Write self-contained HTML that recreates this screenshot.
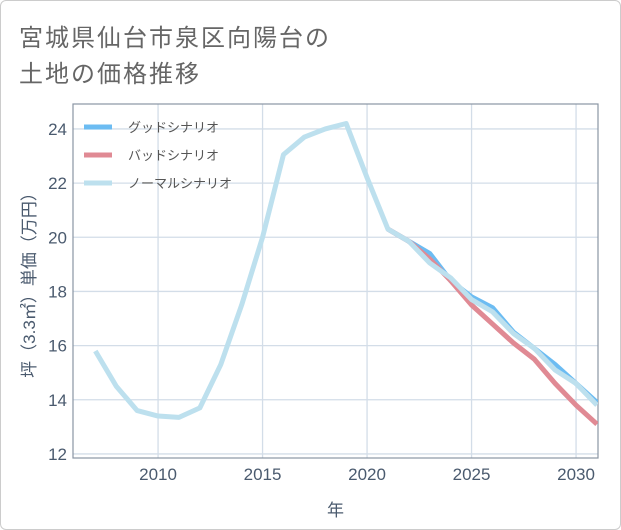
<!DOCTYPE html>
<html><head><meta charset="utf-8"><style>
body{margin:0;background:#fff;}
#card{position:absolute;left:0;top:0;width:619px;height:528px;border:1px solid #ccc;border-radius:6px;background:#fff;overflow:hidden;}
.title{position:absolute;left:18px;font:24px "Liberation Sans","Noto Sans CJK JP",sans-serif;color:#666;letter-spacing:2px;white-space:nowrap;}
svg text{font-family:"Liberation Sans","Noto Sans CJK JP",sans-serif;}
</style></head><body>
<div id="card">
<div class="title" style="top:17px">宮城県仙台市泉区向陽台の</div>
<div class="title" style="top:53px">土地の価格推移</div>
<svg id="chart" width="621" height="530" style="position:absolute;left:0;top:0"></svg>
</div>
<script>
const normalYears=[2007,2008,2009,2010,2011,2012,2013,2014,2015,2016,2017,2018,2019,2020,2021,2022,2023,2024,2025,2026,2027,2028,2029,2030,2031];
const normalValues=[15.8,14.5,13.6,13.4,13.35,13.7,15.3,17.5,20.0,23.05,23.7,24.0,24.2,22.2,20.3,19.85,19.05,18.5,17.7,17.25,16.45,15.9,15.1,14.6,13.8];
const goodYears=[2021,2022,2023,2024,2025,2026,2027,2028,2029,2030,2031];
const goodValues=[20.3,19.85,19.4,18.4,17.8,17.4,16.5,15.9,15.3,14.6,13.9];
const badYears=[2021,2022,2023,2024,2025,2026,2027,2028,2029,2030,2031];
const badValues=[20.3,19.85,19.2,18.4,17.5,16.8,16.1,15.5,14.6,13.8,13.1];
const xTicks=[2010,2015,2020,2025,2030];
const yTicks=[12,14,16,18,20,22,24];
const seriesNames=["グッドシナリオ","バッドシナリオ","ノーマルシナリオ"];
const seriesColors=["#6cbcf2","#e08a94","#bde0ee"];

const L=72,R=597,T=103,B=457,x0=2005.93,x1=2031.05,y0=11.85,y1=24.92;
const sx=v=>L+(v-x0)/(x1-x0)*(R-L);
const sy=v=>B-(v-y0)/(y1-y0)*(B-T);
const svg=document.getElementById('chart');
const NS='http://www.w3.org/2000/svg';
function mk(tag,attrs,parent){const e=document.createElementNS(NS,tag);for(const k in attrs)e.setAttribute(k,attrs[k]);(parent||svg).appendChild(e);return e;}
const clip=mk('clipPath',{id:'pc'});mk('rect',{x:L,y:T,width:R-L,height:B-T},clip);
xTicks.forEach(t=>{
  const g=mk('line',{x1:sx(t),x2:sx(t),y1:T,y2:B,stroke:'#d3dde8','stroke-width':1.3});
  
  
  const tx=mk('text',{x:sx(t),y:B+22,'text-anchor':'middle','font-size':17,fill:'#4a5a6e'});tx.textContent=t;
  
  
});
yTicks.forEach(t=>{
  const g=mk('line',{x1:L,x2:R,y1:sy(t),y2:sy(t),stroke:'#d3dde8','stroke-width':1.3});
  
  
  const tx=mk('text',{x:L-6,y:sy(t)+6,'text-anchor':'end','font-size':17,fill:'#4a5a6e'});tx.textContent=t;
  
  
});
const frame=mk('rect',{x:L,y:T,width:R-L,height:B-T,fill:'none',stroke:'#8a95a3','stroke-width':1.2});


function line(xs,ys,color,name){
  const p=mk('polyline',{points:xs.map((x,i)=>sx(x)+','+sy(ys[i])).join(' '),fill:'none',stroke:color,'stroke-width':5,'stroke-linejoin':'round','clip-path':'url(#pc)'});
  
  
}
line(goodYears,goodValues,seriesColors[0],'good-scenario-line');
line(badYears,badValues,seriesColors[1],'bad-scenario-line');
line(normalYears,normalValues,seriesColors[2],'normal-scenario-line');
seriesNames.forEach((n,i)=>{
  const y=126+i*28;
  const sw=mk('line',{x1:83,x2:111,y1:y,y2:y,stroke:seriesColors[i],'stroke-width':5});
  
  
  const t=mk('text',{x:127,y:y+5,'font-size':13,fill:'#555'});t.textContent=n;
  
  
});
const xt=mk('text',{x:(L+R)/2,y:515,'text-anchor':'middle','font-size':17,fill:'#4a5a6e'});xt.textContent='年';


const yt=mk('text',{x:0,y:0,'text-anchor':'middle','font-size':17,fill:'#4a5a6e',transform:'translate(34,'+((T+B)/2)+') rotate(-90)'});yt.textContent='坪（3.3㎡）単価（万円）';


</script>
</body></html>
